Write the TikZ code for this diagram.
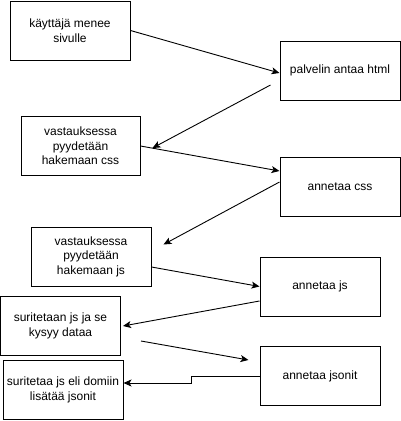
\documentclass[tikz,border=0pt]{standalone}
\usepackage{fontspec}
\setmainfont{Liberation Sans}
\usetikzlibrary{arrows.meta,calc}
\begin{document}
\begin{tikzpicture}[x=1pt,y=-1pt,
  box/.style={draw, line width=1pt, minimum width=120pt, minimum height=59pt,
    align=center, font=\fontsize{12}{14.5}\selectfont, inner sep=0pt},
  conn/.style={line width=0.9pt, -{Stealth[length=8pt,width=7pt,inset=2pt]}}]
\useasboundingbox (0,0) rectangle (401,421);
\node[box] (b1) at (70,30.5) {käyttäjä menee\\sivulle};
\node[box] (b2) at (340,70.5) {palvelin antaa html};
\node[box, minimum width=119pt] (b3) at (80.5,146) {vastauksessa\\pyydetään\\hakemaan css};
\node[box] (b4) at (340,186.5) {annetaa css};
\node[box] (b5) at (91,256.5) {vastauksessa\\pyydetään\\hakemaan js};
\node[box] (b6) at (320,286.5) {annetaa js};
\node[box] (b7) at (60.5,326) {suritetaan js ja se\\kysyy dataa};
\node[box] (b8) at (320,376) {annetaa jsonit};
\node[box] (b9) at (63,390) {suritetaa js eli domiin\\lisätää jsonit};
\coordinate (s2) at ($(b2.west)+(-9,14.5)$);
\coordinate (e2) at ($(b3.east)+(12,2)$);
\coordinate (s4) at ($(b4.west)+(0,-4.5)$);
\coordinate (e4) at ($(b5.north east)+(12,18)$);
\coordinate (s7) at ($(b7.east)+(20,15)$);
\coordinate (e7) at ($(b8.west)+(-11,-16)$);
\coordinate (k8) at ($(b8.west)+(-68,0)$);
\draw[conn] (b1.east) -- ($(b2.west)+(0,2.5)$);
\draw[conn] (s2) -- (e2);
\draw[conn] (b3.east) -- ($(b4.west)+(0,-15.5)$);
\draw[conn] (s4) -- (e4);
\draw[conn] ($(b5.east)+(0,10.5)$) -- (b6.west);
\draw[conn] ($(b6.west)+(0,14.5)$) -- ($(b7.east)+(2,0)$);
\draw[conn] (s7) -- (e7);
\draw[conn] (b8.west) -- (k8) |- ($(b9.east)+(0,-7)$);
\end{tikzpicture}
\end{document}
